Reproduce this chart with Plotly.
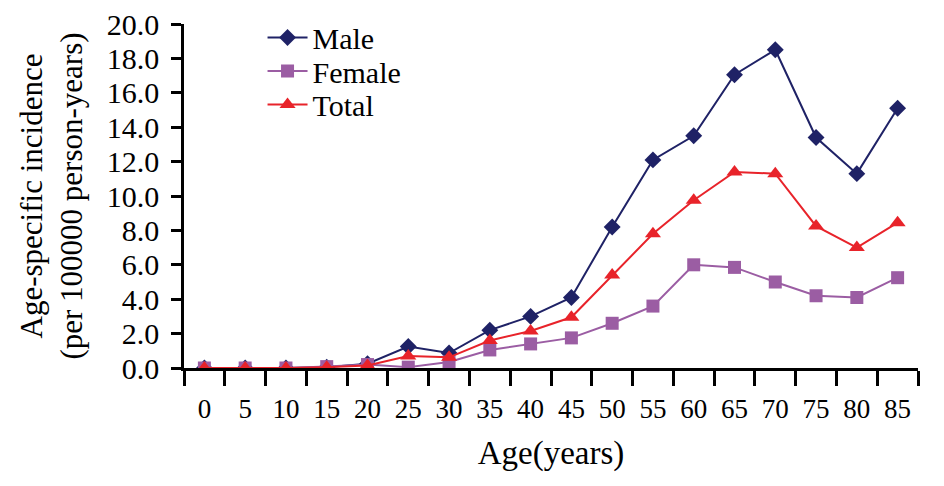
import plotly.graph_objects as go

ages = ["0", "5", "10", "15", "20", "25", "30", "35", "40", "45", "50", "55", "60", "65", "70", "75", "80", "85"]
male = [0.0, 0.0, 0.0, 0.05, 0.25, 1.25, 0.87, 2.2, 3.0, 4.1, 8.2, 12.1, 13.5, 17.05, 18.5, 13.4, 11.3, 15.1]
female = [0.0, 0.0, 0.0, 0.08, 0.2, 0.05, 0.35, 1.05, 1.4, 1.75, 2.6, 3.6, 6.0, 5.85, 5.0, 4.2, 4.1, 5.25]
total = [0.0, 0.0, 0.0, 0.05, 0.15, 0.7, 0.62, 1.6, 2.15, 2.95, 5.4, 7.8, 9.75, 11.4, 11.3, 8.25, 7.0, 8.45]
yticks = [0, 2, 4, 6, 8, 10, 12, 14, 16, 18, 20]

font_family = "Liberation Serif"

fig = go.Figure()
fig.add_trace(go.Scatter(x=ages, y=male, name="Male", mode="lines+markers", legend="legend",
                         line=dict(color="#1f2266", width=2),
                         marker=dict(symbol="diamond", size=13, color="#1f2266")))
fig.add_trace(go.Scatter(x=ages, y=female, name="Female", mode="lines+markers", legend="legend2",
                         line=dict(color="#9b5da3", width=2),
                         marker=dict(symbol="square", size=13, color="#9b5da3")))
fig.add_trace(go.Scatter(x=ages, y=total, name="Total", mode="lines+markers", legend="legend3",
                         line=dict(color="#e8232a", width=2),
                         marker=dict(symbol="triangle-up", size=14, color="#e8232a")))

W, H = 944, 486
off = 8  # page body offset
top, bot = 24 - off, 368 - off
left, right = 184 - off, 918 - off

def ypaper(py):
    return (bot - (py - off)) / (bot - top)

def leg(yc):
    return dict(x=0.107, y=ypaper(yc), xanchor="left", yanchor="middle",
                font=dict(size=30, family=font_family), bgcolor="rgba(0,0,0,0)",
                itemwidth=40)

fig.update_layout(
    width=W, height=H,
    margin=dict(l=left, r=W - right, t=top, b=H - bot, autoexpand=False),
    paper_bgcolor="white", plot_bgcolor="white",
    font=dict(family=font_family, size=28, color="black"),
    showlegend=True,
    legend=leg(37.5),
    legend2=leg(71),
    legend3=leg(104.5),
    xaxis=dict(type="category", tickson="boundaries", ticks="outside", ticklen=15,
               tickwidth=2.5, tickcolor="black", showline=True, linecolor="black",
               linewidth=2.5, showgrid=False, zeroline=False, automargin=False,
               range=[-0.5, 17.5], ticklabelstandoff=15, ticklabeloverflow="allow",
               tickfont=dict(size=27, family=font_family),
               title=dict(text="Age(years)", font=dict(size=33, family=font_family), standoff=18)),
    yaxis=dict(range=[0, 20], tickvals=yticks, tickformat=".1f", ticks="outside",
               ticklen=10, tickwidth=2.5, tickcolor="black", showline=True,
               linecolor="black", linewidth=2.5, showgrid=False, zeroline=False,
               automargin=False, ticklabelstandoff=6, ticklabeloverflow="allow",
               tickfont=dict(size=30, family=font_family),
               title=dict(text="Age-specific incidence<br>(per 100000 person-years)",
                          font=dict(size=31, family=font_family), standoff=15)),
)

fig.write_html("out.html")
